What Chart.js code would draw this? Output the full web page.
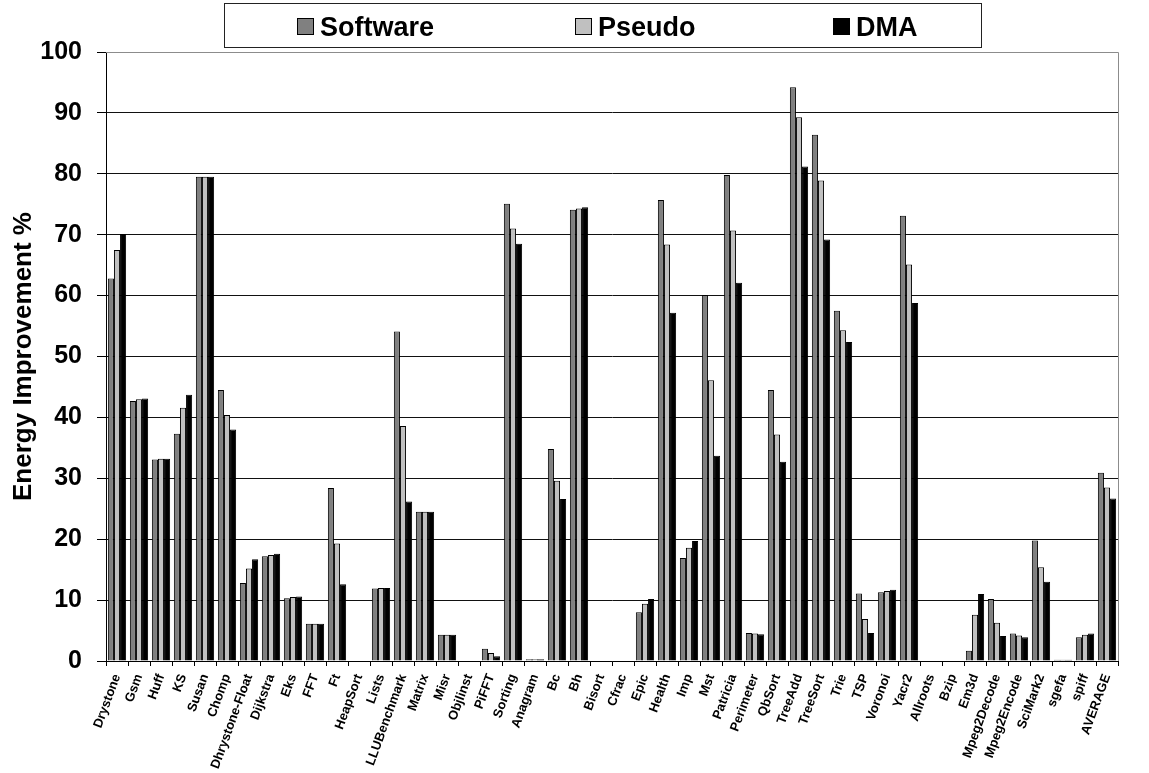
<!DOCTYPE html>
<html>
<head>
<meta charset="utf-8">
<script src="https://cdn.jsdelivr.net/npm/chart.js@4/dist/chart.umd.min.js"></script>
<style>
  html, body { margin: 0; padding: 0; background: #fff; }
  #wrap { width: 1149px; height: 773px; }
</style>
</head>
<body>
<div id="wrap"><canvas id="chart" width="1149" height="773"></canvas></div>
<script>
// Benchmarks on the x axis
const categories = [
  'Drystone', 'Gsm', 'Huff', 'KS', 'Susan', 'Chomp', 'Dhrystone-Float', 'Dijkstra',
  'Eks', 'FFT', 'Ft', 'HeapSort', 'Lists', 'LLUBenchmark', 'Matrix', 'Misr',
  'Objlinst', 'PiFFT', 'Sorting', 'Anagram', 'Bc', 'Bh', 'Bisort', 'Cfrac',
  'Epic', 'Health', 'Imp', 'Mst', 'Patricia', 'Perimeter', 'QbSort', 'TreeAdd',
  'TreeSort', 'Trie', 'TSP', 'Voronoi', 'Yacr2', 'Allroots', 'Bzip', 'Em3d',
  'Mpeg2Decode', 'Mpeg2Encode', 'SciMark2', 'sgefa', 'spiff', 'AVERAGE'
];

// Energy improvement (%) per technique
const software = [
  62.8, 42.7, 33.1, 37.3, 79.5, 44.5, 12.8, 17.2, 10.3, 6.1, 28.4, 0,
  11.9, 54.1, 24.5, 4.3, 0, 2.0, 75.1, 0.3, 34.8, 74.1, 0, 0,
  8.0, 75.7, 16.9, 60.1, 79.8, 4.6, 44.5, 94.2, 86.4, 57.5, 11.1, 11.3,
  73.1, 0, 0, 1.7, 10.2, 4.5, 19.8, 0.2, 3.9, 30.9
];
const pseudo = [
  67.5, 43.0, 33.2, 41.6, 79.5, 40.4, 15.2, 17.4, 10.5, 6.1, 19.3, 0,
  12.0, 38.6, 24.5, 4.3, 0, 1.3, 71.0, 0.3, 29.6, 74.3, 0, 0,
  9.4, 68.4, 18.6, 46.1, 70.7, 4.5, 37.2, 89.3, 78.9, 54.3, 6.9, 11.5,
  65.1, 0, 0, 7.6, 6.3, 4.2, 15.4, 0.2, 4.3, 28.5
];
const dma = [
  70.1, 43.1, 33.2, 43.7, 79.5, 38.0, 16.7, 17.6, 10.6, 6.1, 12.6, 0,
  12.0, 26.2, 24.5, 4.3, 0, 0.8, 68.5, 0.3, 26.6, 74.5, 0, 0,
  10.2, 57.2, 19.7, 33.7, 62.1, 4.4, 32.7, 81.2, 69.2, 52.4, 4.6, 11.7,
  58.8, 0, 0, 11.0, 4.1, 3.9, 13.0, 0.2, 4.5, 26.7
];

const seriesNames = ['Software', 'Pseudo', 'DMA'];
const yTicks = [0, 10, 20, 30, 40, 50, 60, 70, 80, 90, 100];

const FONT = '"Liberation Sans", Arial, Helvetica, sans-serif';

// Boxed legend across the top, plus the grey frame on the top/right of the plot
const boxedLegend = {
  id: 'boxedLegend',
  afterDraw(chart) {
    const ctx = chart.ctx;
    const area = chart.chartArea;
    ctx.save();
    // plot frame (top and right edges)
    ctx.strokeStyle = '#8c8c8c';
    ctx.lineWidth = 1;
    ctx.beginPath();
    ctx.moveTo(area.left, Math.round(area.top) + 0.5);
    ctx.lineTo(Math.round(area.right) + 0.5, Math.round(area.top) + 0.5);
    ctx.lineTo(Math.round(area.right) + 0.5, Math.round(area.bottom));
    ctx.stroke();

    // legend frame
    const bx = 224, by = 3, bw = 757, bh = 44;
    ctx.strokeStyle = '#222';
    ctx.strokeRect(bx + 0.5, by + 0.5, bw, bh);

    const itemX = [297, 575, 833];
    ctx.font = 'bold 27px ' + FONT;
    ctx.textBaseline = 'alphabetic';
    ctx.textAlign = 'left';
    chart.data.datasets.forEach((ds, i) => {
      const x = itemX[i];
      ctx.fillStyle = ds.backgroundColor;
      ctx.fillRect(x, 18, 17, 17);
      ctx.strokeStyle = '#000';
      ctx.strokeRect(x + 0.5, 18.5, 16, 16);
      ctx.fillStyle = '#000';
      ctx.fillText(ds.label, x + 23, 36);
    });
    ctx.restore();
  }
};

new Chart(document.getElementById('chart'), {
  type: 'bar',
  data: {
    labels: categories,
    datasets: [
      { label: seriesNames[0], data: software, backgroundColor: '#808080' },
      { label: seriesNames[1], data: pseudo, backgroundColor: '#c0c0c0' },
      { label: seriesNames[2], data: dma, backgroundColor: '#000000' }
    ]
  },
  options: {
    responsive: false,
    animation: false,
    devicePixelRatio: 1,
    layout: { padding: { top: 52, right: 31, left: 0, bottom: 0 } },
    datasets: {
      bar: {
        borderColor: '#000',
        borderWidth: 1,
        borderSkipped: 'start',
        categoryPercentage: 0.83,
        barPercentage: 1.0
      }
    },
    plugins: {
      legend: { display: false },
      tooltip: { enabled: false }
    },
    scales: {
      x: {
        offset: true,
        afterFit(scale) { scale.height = 112; },
        grid: {
          offset: true,
          drawOnChartArea: false,
          drawTicks: true,
          tickLength: 5,
          color: '#000'
        },
        border: { display: true, color: '#000', width: 1 },
        ticks: {
          autoSkip: false,
          maxRotation: 70,
          minRotation: 70,
          padding: 6,
          color: '#000',
          font: { family: FONT, size: 13, weight: 'bold' }
        }
      },
      y: {
        min: 0,
        max: 100,
        afterFit(scale) { scale.width = 106; },
        afterBuildTicks(scale) { scale.ticks = yTicks.map(v => ({ value: v })); },
        grid: {
          color: (c) => (c.tick && c.tick.value === 100 ? '#8c8c8c' : '#111'),
          lineWidth: 1,
          drawTicks: true,
          tickLength: 9,
          tickColor: '#000'
        },
        border: { display: true, color: '#000', width: 1 },
        ticks: {
          padding: 15,
          color: '#000',
          font: { family: FONT, size: 25, weight: 'bold' }
        },
        title: {
          display: true,
          text: 'Energy Improvement %',
          color: '#000',
          padding: { top: 8, bottom: 0 },
          font: { family: FONT, size: 26, weight: 'bold' }
        }
      }
    }
  },
  plugins: [boxedLegend]
});
</script>
</body>
</html>
